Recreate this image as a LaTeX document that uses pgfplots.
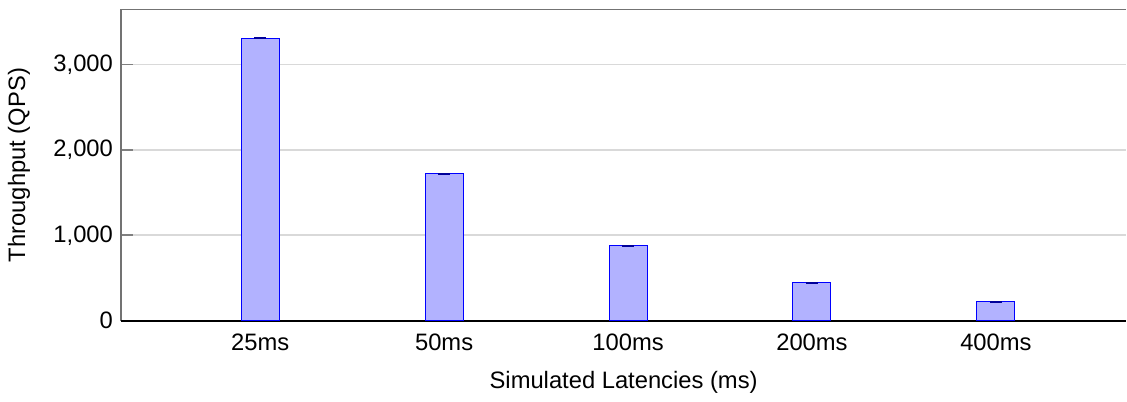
\documentclass[border=0pt]{standalone}
\usepackage{fontspec}
\setmainfont{Liberation Sans}
\usepackage{pgfplots}
\pgfplotsset{compat=1.18}
\begin{document}
\begin{tikzpicture}
\begin{axis}[
  scale only axis,
  width=423pt, height=131pt,
  xmin=-0.755, xmax=4.707,
  ymin=0, ymax=3645,
  axis x line=box,
  axis y line*=left,
  axis line style={gray!90!black, line width=0.8pt},
  xtick={0,1,2,3,4},
  xticklabels={25ms,50ms,100ms,200ms,400ms},
  x tick style={draw=none},
  ytick={0,1000,2000,3000},
  y tick style={gray, line width=0.8pt},
  major tick length=5pt,
  tick align=inside,
  ymajorgrids,
  grid style={gray!30, line width=0.8pt},
  extra y ticks={0},
  extra y tick labels={},
  extra y tick style={grid style={black, line width=0.9pt}, y tick style={draw=none}},
  /pgf/number format/1000 sep={,},
  /pgf/number format/assume math mode=true,
  xlabel={Simulated Latencies (ms)},
  ylabel={Throughput (QPS)},
  tick label style={font=\fontsize{10pt}{12pt}\selectfont},
  label style={font=\fontsize{10pt}{12pt}\selectfont},
  xticklabel style={yshift=-2pt},
  xlabel style={yshift=-2pt},
  ylabel style={yshift=3pt},
]
\addplot[ybar, bar width=16pt, fill=blue!30, draw=blue,
  error bars/.cd, y dir=both, y explicit,
  error bar style={blue!60!black, line width=0.6pt},
  error mark options={rotate=90, mark size=2.5pt, blue!60!black, line width=0.8pt}]
  coordinates {
    (0,3310) +- (0,2)
    (1,1720) +- (0,2)
    (2,877) +- (0,2)
    (3,442) +- (0,2)
    (4,220) +- (0,2)
  };
\end{axis}
\path (current axis.north) ++(0,4pt) coordinate (t);
\end{tikzpicture}
\end{document}
